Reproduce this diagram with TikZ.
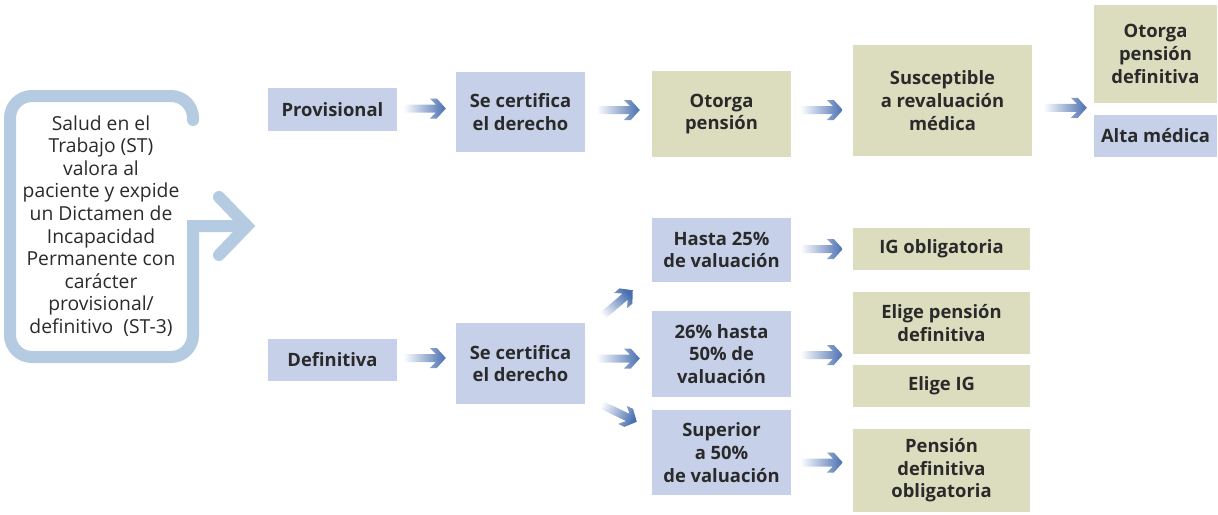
\documentclass[tikz,border=0pt]{standalone}
\usepackage{fontspec}
\setmainfont{Open Sans}
\usetikzlibrary{calc}

\definecolor{boxblue}{HTML}{C6D1E9}
\definecolor{boxolive}{HTML}{DCDCBF}
\definecolor{lineblue}{HTML}{B4CBE2}
\definecolor{arrowblue}{HTML}{4A6FB0}
\definecolor{textgray}{HTML}{2A2A2A}

\tikzset{
  bluebox/.style={fill=boxblue, text=textgray, align=center, inner sep=0pt,
    font=\bfseries\fontsize{18.4}{22.6}\selectfont},
  olivebox/.style={bluebox, fill=boxolive},
  callout/.style={draw=lineblue, line width=12pt},
}

% shaded arrow from #1 to #2
\newcommand\garrow[2]{%
  \path let \p1=(#1), \p2=(#2) in \pgfextra{%
    \pgfmathsetmacro\tmpang{atan2(\y2-\y1,\x2-\x1)}%
    \pgfmathsetmacro\tmplen{veclen(\x2-\x1,\y2-\y1)}%
    \xdef\garang{\tmpang}\xdef\garlen{\tmplen}};
  \begin{scope}[shift={(#1)}, rotate=\garang]
    \shade[top color=white, bottom color=arrowblue, shading angle=\garang+90]
      (0,-4) -- ({\garlen-10},-4) -- ({\garlen-16},-10) -- ({\garlen-9},-10)
      -- (\garlen,0) -- ({\garlen-9},10) -- ({\garlen-16},10) -- ({\garlen-10},4)
      -- (0,4) -- cycle;
  \end{scope}}

\begin{document}
\begin{tikzpicture}[x=1pt, y=-1pt]
  \useasboundingbox (0,0) rectangle (1218,514);

  %callout on the left:
  \draw[callout, line cap=round] (193,120) [rounded corners=22] -- (193,96) -- (10,96)
    -- (10,357) -- (193,357) [sharp corners] -- (193,226) -- (246,226);
  \draw[callout, line cap=round, miter limit=4] (219,197) -- (247,226) -- (219,255);
  \node[align=center, text=textgray, font=\fontsize{19.3}{22.6}\selectfont] (st) at (101,226)
    {Salud en el\\Trabajo (ST)\\valora al\\paciente y expide\\un Dictamen de\\Incapacidad\\
     Permanente con\\carácter\\provisional/\\definitivo~ (ST-3)};

  %provisional branch:
  \node[bluebox, minimum width=129, minimum height=43] (prov) at (332.5,109.5) {Provisional};
  \node[bluebox, minimum width=129, minimum height=80] (cert1) at (520.5,112) {Se certifica\\el derecho};
  \node[olivebox, minimum width=139, minimum height=86] (otorga) at (721.5,114) {Otorga\\pensión};
  \node[olivebox, minimum width=179, minimum height=111] (suscep) at (942.5,100.5) {Susceptible\\a revaluación\\médica};
  \node[olivebox, minimum width=123, minimum height=98] (otdef) at (1155.5,54) {Otorga\\pensión\\definitiva};
  \node[bluebox, minimum width=123, minimum height=42] (alta) at (1155.5,136) {Alta médica};

  %definitiva branch:
  \node[bluebox, minimum width=129, minimum height=42] (defin) at (332.5,360) {Definitiva};
  \node[bluebox, minimum width=129, minimum height=81] (cert2) at (520.5,363.5) {Se certifica\\el derecho};
  \node[bluebox, minimum width=139, minimum height=64] (hasta) at (721.5,250) {Hasta 25\%\\de valuación};
  \node[bluebox, minimum width=139, minimum height=86] (medio) at (721.5,354) {26\% hasta\\50\% de\\valuación};
  \node[bluebox, minimum width=139, minimum height=85] (super) at (721.5,452.5) {Superior\\a 50\%\\de valuación};
  \node[olivebox, minimum width=177, minimum height=42] (igob) at (941.5,249) {IG obligatoria};
  \node[olivebox, minimum width=177, minimum height=62] (elige) at (941.5,323) {Elige pensión\\definitiva};
  \node[olivebox, minimum width=177, minimum height=42] (eligeig) at (941.5,386) {Elige IG};
  \node[olivebox, minimum width=177, minimum height=83] (pdo) at (941.5,470.5) {Pensión\\definitiva\\obligatoria};

  %arrows:
  \garrow{$(prov.east)+(6,-1)$}{$(cert1.west|-prov.east)+(-10,-1)$}
  \garrow{$(cert1.east)+(11,-2)$}{$(otorga.west|-cert1.east)+(-12,-2)$}
  \garrow{$(otorga.east)+(9,-4)$}{$(suscep.west|-otorga.east)+(-10,-4)$}
  \garrow{$(suscep.east|-alta.north)+(11,-7)$}{$(otdef.west|-alta.north)+(-7,-7)$}
  \garrow{$(defin.east)+(6,-2)$}{$(cert2.west|-defin.east)+(-10,-2)$}
  \garrow{$(cert2.east)+(11,-5)$}{$(medio.west|-cert2.east)+(-12,-5)$}
  \garrow{$(cert2.north east)+(15,-5)$}{$(hasta.south west)+(-19,8)$}
  \garrow{$(cert2.south east)+(13,-1)$}{$(super.north west)+(-15,12)$}
  \garrow{$(hasta.east)+(9,-1)$}{$(igob.west|-hasta.east)+(-10,-1)$}
  \garrow{$(medio.east)+(9,1)$}{$(elige.west|-medio.east)+(-10,1)$}
  \garrow{$(super.east)+(9,10)$}{$(pdo.west|-super.east)+(-10,10)$}
\end{tikzpicture}
\end{document}
